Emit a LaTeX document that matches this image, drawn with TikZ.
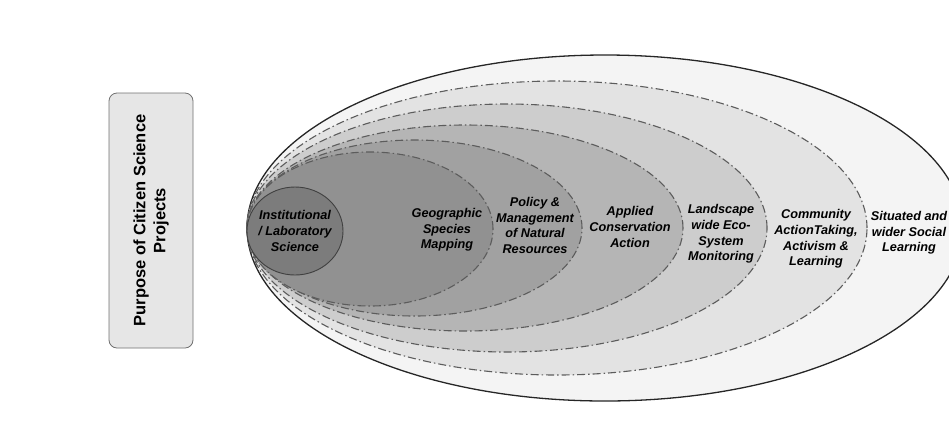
\documentclass[tikz,border=0pt]{standalone}
\usepackage{fontspec}
\setmainfont{Liberation Sans}
\usepackage{tikz}
\usetikzlibrary{positioning}

\definecolor{ringline}{HTML}{5C5C5C}
\definecolor{shadeA}{HTML}{F4F4F4}
\definecolor{shadeB}{HTML}{E3E3E3}
\definecolor{shadeC}{HTML}{CDCDCD}
\definecolor{shadeD}{HTML}{B5B5B5}
\definecolor{shadeE}{HTML}{A1A1A1}
\definecolor{shadeF}{HTML}{919191}
\definecolor{shadeG}{HTML}{7C7C7C}
\definecolor{boxfill}{HTML}{E6E6E6}
\definecolor{boxline}{HTML}{707070}

\tikzset{
  ring/.style={draw=ringline, line width=1.1pt,
    dash pattern=on 8pt off 3pt on 1.5pt off 3pt},
  rimline/.style={draw=black!85, line width=1.3pt},
  lbl/.style={align=center, inner sep=0pt,
    font=\fontsize{12.7}{15.7}\selectfont\bfseries\itshape},
  purposebox/.style={draw=boxline, fill=boxfill, line width=0.8pt,
    rounded corners=8pt, rotate=90, align=center,
    minimum width=255pt, minimum height=84pt,
    font=\fontsize{16.5}{20}\selectfont\bfseries}
}

\begin{document}
\begin{tikzpicture}[x=1pt, y=-1pt]
\useasboundingbox (0,0) rectangle (949,432);

% nested fields, widest first
\draw[rimline, fill=shadeA] (605,228) ellipse [x radius=358pt, y radius=173pt];
\draw[ring, fill=shadeB] (557,228) ellipse [x radius=310pt, y radius=147pt];
\draw[ring, fill=shadeC] (507,228) ellipse [x radius=260pt, y radius=124pt];
\draw[ring, fill=shadeD] (465,228) ellipse [x radius=218pt, y radius=103pt];
\draw[ring, fill=shadeE] (414.5,228) ellipse [x radius=167.5pt, y radius=88pt];
\draw[ring, fill=shadeF] (370,229) ellipse [x radius=123pt, y radius=77pt];
\draw[draw=black!75, line width=0.9pt, fill=shadeG] (295,231) ellipse [x radius=48pt, y radius=44pt];

\node[purposebox] (purpose) at (151,220.5) {Purpose of Citizen Science\\Projects};

\node[lbl] (lab) at (295,231) {Institutional\\/ Laboratory\\Science};
\node[lbl] (geo) at (447,230) {Geographic\\Species\\Mapping};
\node[lbl] (policy) at (535,225.5) {Policy \&\\Management\\of Natural\\Resources};
\node[lbl] (applied) at (630,227) {Applied\\Conservation\\Action};
\node[lbl] (landscape) at (721,234) {Landscape\\wide Eco-\\System\\Monitoring};
\node[lbl] (community) at (816,239) {Community\\ActionTaking,\\Activism \&\\Learning};
\node[lbl] (situated) at (909,233) {Situated and\\wider Social\\Learning};

\end{tikzpicture}
\end{document}
